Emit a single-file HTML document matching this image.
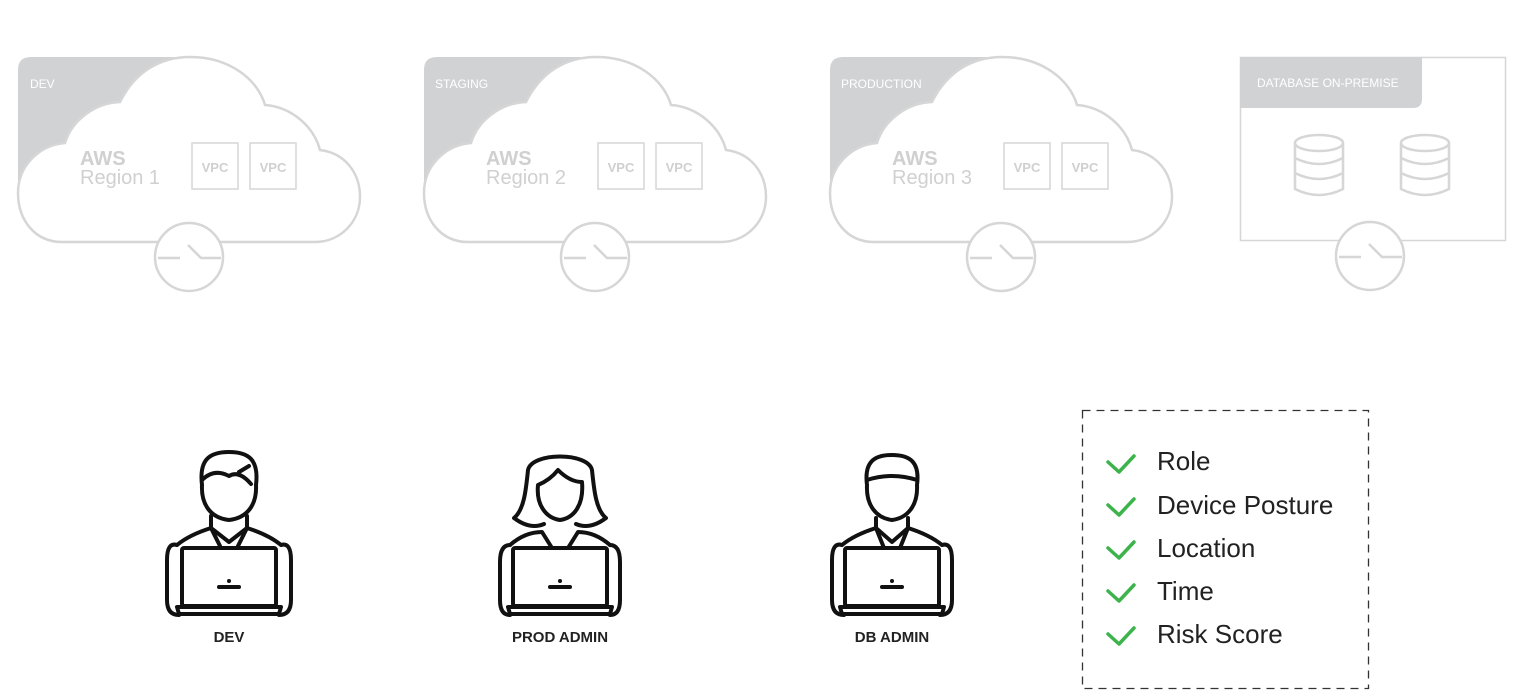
<!DOCTYPE html>
<html><head><meta charset="utf-8"><style>
html,body{margin:0;padding:0;background:#fff}
svg{display:block}
text{font-family:"Liberation Sans",sans-serif}
</style></head><body>
<svg width="1519" height="690" viewBox="0 0 1519 690" xmlns="http://www.w3.org/2000/svg">
<defs>
<g id="cloud">
  <path d="M18,70 Q18,57 31,57 L182,57 L182,185 L18,185 Z" fill="#d1d2d4"/>
  <path d="M62,242 C35,242 18,220 18,193 C18,165 40,145 65,143 C72,120 95,103 120,102 C135,72 160,57 190,57 C230,57 258,80 265,105 C292,107 314,127 320,150 C345,153 360,173 360,197 C360,222 340,242 315,242 Z" fill="#fff" stroke="#d6d6d6" stroke-width="2.5"/>
  <rect x="192" y="143" width="46" height="46" fill="none" stroke="#d6d6d6" stroke-width="1.5"/>
  <rect x="250" y="143" width="46" height="46" fill="none" stroke="#d6d6d6" stroke-width="1.5"/>
  <text x="215" y="172" font-size="13" font-weight="bold" fill="#d0d0d0" text-anchor="middle">VPC</text>
  <text x="273" y="172" font-size="13" font-weight="bold" fill="#d0d0d0" text-anchor="middle">VPC</text>
  <text x="80" y="165" font-size="20" font-weight="bold" fill="#d0d0d0">AWS</text>
</g>
<g id="clock">
  <circle cx="0" cy="0" r="34" fill="#fff" stroke="#d6d6d6" stroke-width="2.5"/>
  <path d="M-31,1 L-9,1 M-1,-12 L12,1 L32,1" fill="none" stroke="#d6d6d6" stroke-width="2.5"/>
</g>
<g id="laptop" fill="none" stroke="#111" stroke-width="4" stroke-linejoin="round">
  <rect x="-47" y="98" width="94" height="58" rx="2" fill="#fff"/>
  <path d="M-52,157 L52,157 L50,164 L-50,164 Z" fill="#fff"/>
  <circle cx="0" cy="131" r="2" fill="#111" stroke="none"/>
  <line x1="-10" y1="137" x2="10" y2="137"/>
</g>
<g id="dbc" fill="none" stroke="#d6d6d6" stroke-width="2.5">
  <ellipse cx="0" cy="0" rx="24" ry="8"/>
  <path d="M-24,0 L-24,46 Q0,58 24,46 L24,0 M-24,15 Q0,27 24,15 M-24,30 Q0,42 24,30"/>
</g>
</defs>

<!-- clouds -->
<g><use href="#cloud"/><text x="30" y="88" font-size="12" fill="#fff">DEV</text><text x="80" y="184" font-size="20" fill="#d0d0d0">Region 1</text></g>
<g transform="translate(406,0)"><use href="#cloud"/><text x="29" y="88" font-size="12" fill="#fff">STAGING</text><text x="80" y="184" font-size="20" fill="#d0d0d0">Region 2</text></g>
<g transform="translate(812,0)"><use href="#cloud"/><text x="29" y="88" font-size="12" fill="#fff">PRODUCTION</text><text x="80" y="184" font-size="20" fill="#d0d0d0">Region 3</text></g>
<use href="#clock" transform="translate(189,257)"/>
<use href="#clock" transform="translate(595,257)"/>
<use href="#clock" transform="translate(1001,257)"/>

<!-- database -->
<rect x="1240.5" y="57.5" width="265" height="183" fill="#fff" stroke="#d6d6d6" stroke-width="1.5"/>
<path d="M1240,57 L1422,57 L1422,99 Q1422,108 1413,108 L1240,108 Z" fill="#d1d2d4"/>
<text x="1257" y="87" font-size="12" fill="#fff">DATABASE ON-PREMISE</text>
<use href="#dbc" transform="translate(1319,143)"/>
<use href="#dbc" transform="translate(1425,143)"/>
<use href="#clock" transform="translate(1370,256)"/>

<!-- people -->
<g transform="translate(229,450)" fill="none" stroke="#111" stroke-width="4" stroke-linejoin="round" stroke-linecap="round">
  <path d="M-52,95 Q-62,92 -62,110 L-62,150 Q-62,165 -50,165 M52,95 Q62,92 62,110 L62,150 Q62,165 50,165"/>
  <path d="M-52,95 Q-40,85 -18,78 L0,92 L18,78 Q40,85 52,95"/>
  <path d="M-18,66 L-18,78 M18,66 L18,78 M-18,78 L-8,98 M18,78 L8,98"/>
  <path d="M-27,35 C-30,10 -20,2 0,2 C20,2 30,10 27,35 C28,55 18,68 0,70 C-18,68 -28,55 -27,35 Z"/>
  <path d="M-27,30 Q-15,18 0,26 Q10,20 22,34 M10,22 L20,16"/>
  <use href="#laptop"/>
</g>
<g transform="translate(560,450)" fill="none" stroke="#111" stroke-width="4" stroke-linejoin="round" stroke-linecap="round">
  <path d="M-50,95 Q-60,95 -60,112 L-60,150 Q-60,165 -50,165 M50,95 Q60,95 60,112 L60,150 Q60,165 50,165"/>
  <path d="M-50,95 Q-35,82 -18,82 L-8,98 L8,98 L18,82 Q35,82 50,95"/>
  <path d="M-32,20 C-28,2 28,2 32,20 C34,40 36,60 46,68 Q30,80 16,74 M-32,20 C-34,40 -36,60 -46,68 Q-30,80 -16,74"/>
  <path d="M-22,35 Q-10,30 -2,20 Q10,32 22,32 C24,55 14,68 0,70 C-14,68 -24,55 -22,35 Z"/>
  <use href="#laptop"/>
</g>
<g transform="translate(892,450)" fill="none" stroke="#111" stroke-width="4" stroke-linejoin="round" stroke-linecap="round">
  <path d="M-50,95 Q-60,92 -60,110 L-60,150 Q-60,165 -48,165 M50,95 Q60,92 60,110 L60,150 Q60,165 48,165"/>
  <path d="M-50,95 Q-38,85 -16,78 L0,92 L16,78 Q38,85 50,95"/>
  <path d="M-16,68 L-16,78 M16,68 L16,78 M-16,78 L-8,98 M16,78 L8,98"/>
  <path d="M-25,35 C-28,12 -18,5 0,5 C18,5 28,12 25,35 C26,55 16,68 0,70 C-16,68 -26,55 -25,35 Z"/>
  <path d="M-25,30 Q0,22 25,30"/>
  <use href="#laptop"/>
</g>
<g font-size="15" font-weight="bold" fill="#222" text-anchor="middle">
  <text x="229" y="642">DEV</text>
  <text x="560" y="642">PROD ADMIN</text>
  <text x="892" y="642">DB ADMIN</text>
</g>

<!-- checklist -->
<rect x="1082.5" y="410.5" width="286" height="278" fill="none" stroke="#333" stroke-width="1.3" stroke-dasharray="8,6"/>
<g fill="none" stroke="#3cb44b" stroke-width="3.5" stroke-linecap="round" stroke-linejoin="round">
  <path d="M1108,462 L1119,472 L1134,456"/>
  <path d="M1108,505 L1119,515 L1134,499"/>
  <path d="M1108,548 L1119,558 L1134,542"/>
  <path d="M1108,591 L1119,601 L1134,585"/>
  <path d="M1108,634 L1119,644 L1134,628"/>
</g>
<g font-size="26" fill="#222">
  <text x="1157" y="470">Role</text>
  <text x="1157" y="514">Device Posture</text>
  <text x="1157" y="557">Location</text>
  <text x="1157" y="600">Time</text>
  <text x="1157" y="643">Risk Score</text>
</g>
</svg>
</body></html>
